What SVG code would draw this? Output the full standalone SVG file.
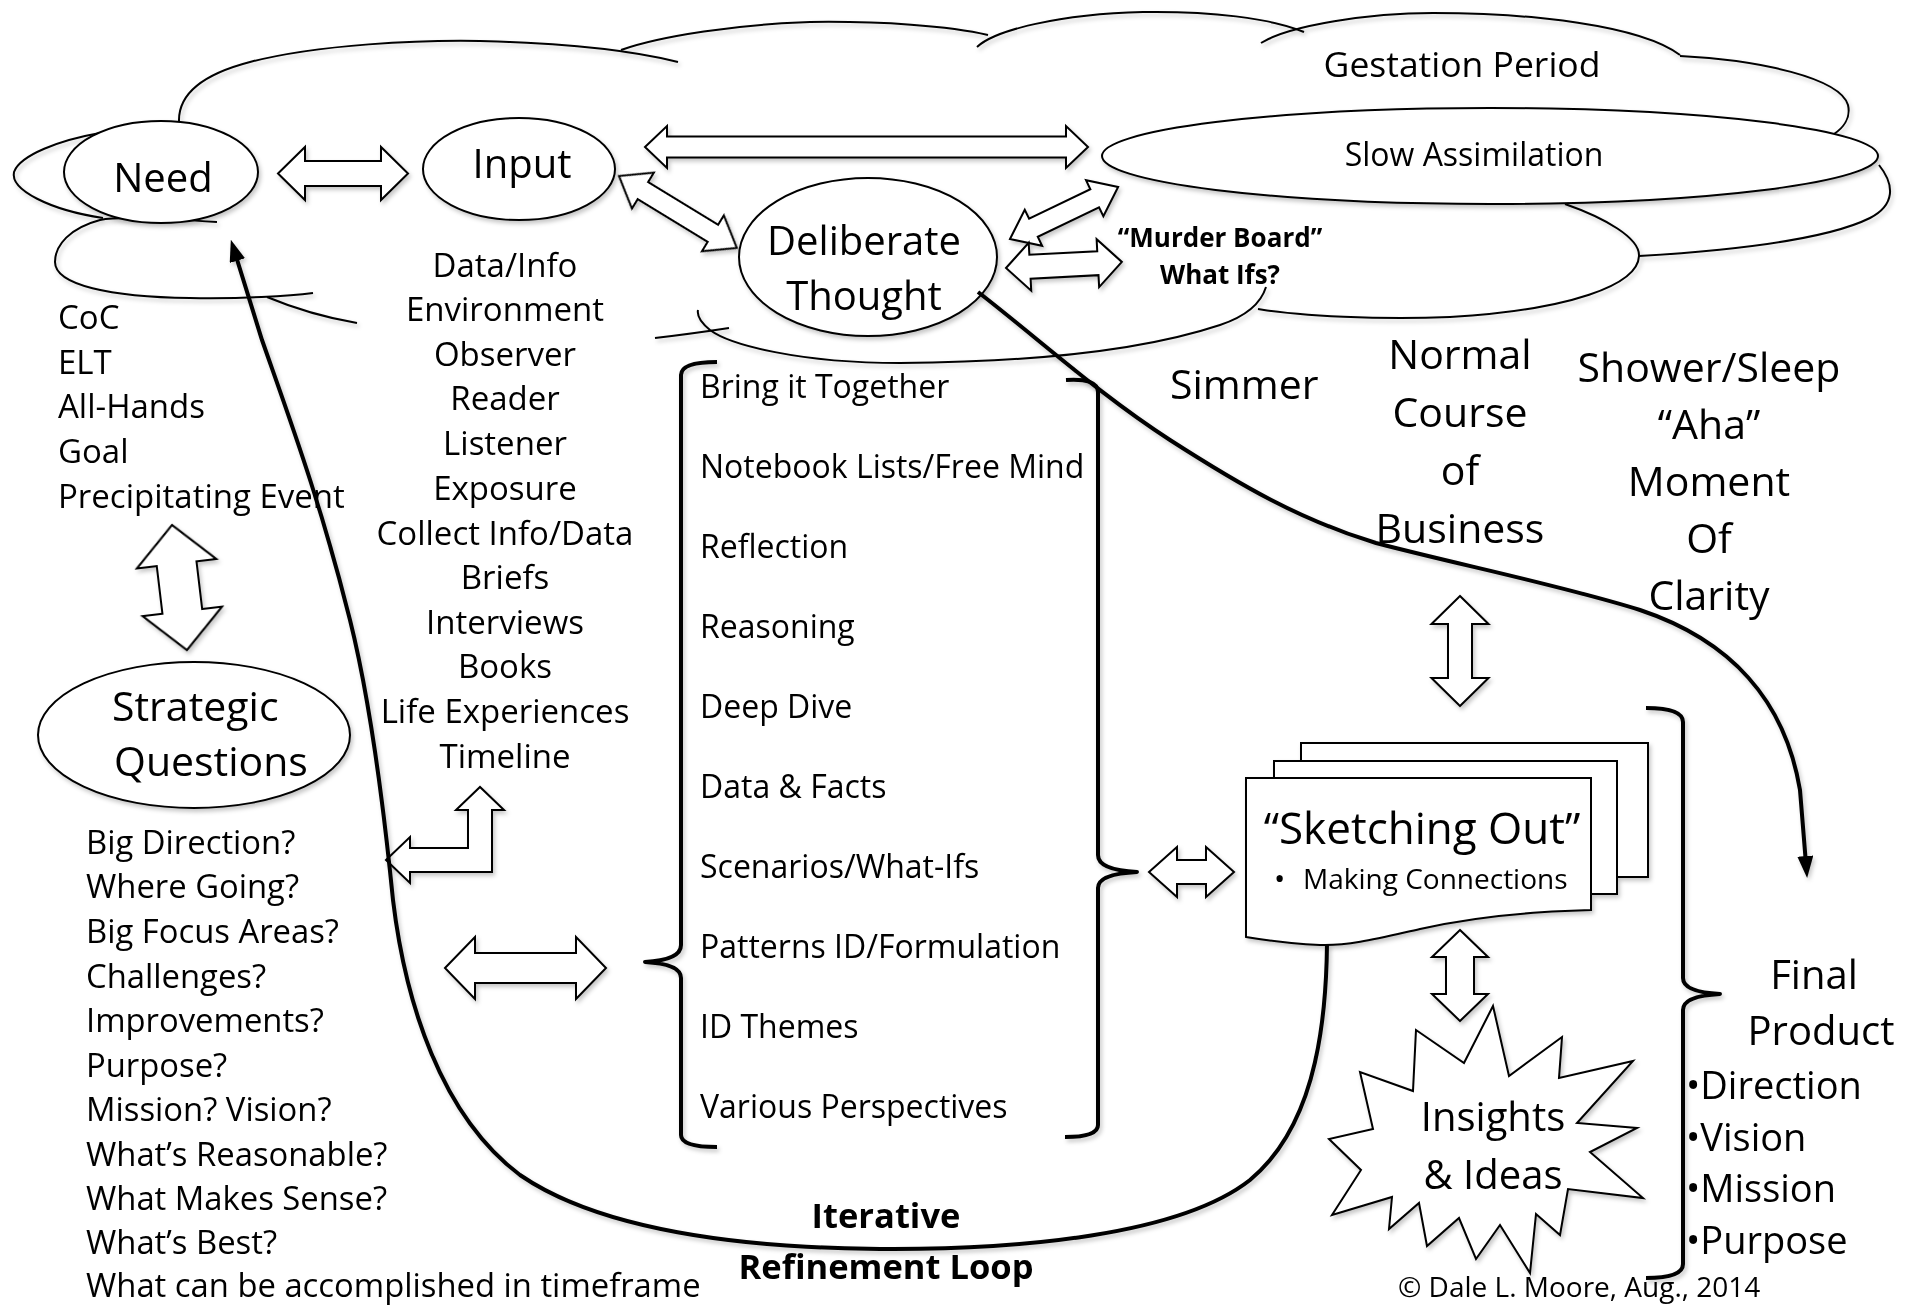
<svg xmlns="http://www.w3.org/2000/svg" width="1907" height="1307" viewBox="0 0 1907 1307">
  <defs>
    <style>
      .ln { fill: none; stroke: #000; stroke-width: 2; }
      .sh { fill: #fff; stroke: #000; stroke-width: 2; }
      .br { fill: none; stroke: #000; stroke-width: 4; stroke-linejoin: round; }
      .ar { fill: #fff; stroke: #000; stroke-width: 2; stroke-linejoin: miter; }
      .flow { fill: none; stroke: #000; stroke-width: 4; }
      .t { font-family: "Open Sans", "Liberation Sans", sans-serif; fill: #000; }
      .b { font-weight: bold; }
      .c { text-anchor: middle; }
      .shadow { filter: url(#drop); }
    </style>
    <filter id="drop" x="-10%" y="-10%" width="125%" height="130%">
      <feDropShadow dx="2" dy="3" stdDeviation="2" flood-color="#000" flood-opacity="0.22"/>
    </filter>
    <marker id="head" viewBox="0 0 22 16" refX="8" refY="8" markerWidth="22" markerHeight="16" markerUnits="userSpaceOnUse" orient="auto">
      <path d="M0,0 L22,8 L0,16 Z" fill="#000"/>
    </marker>
  </defs>

  <rect width="1907" height="1307" fill="#fff"/>

  <!-- gestation cloud outline, built from separate lobes -->
  <g id="cloud" class="shadow">
    <path class="ln" d="M179,122 C178,95 200,75 250,62 C320,44 420,40 480,41 C560,43 630,50 678,62"/>
    <path class="ln" d="M621,50 C660,36 740,24 810,22 C880,21 950,26 988,35"/>
    <path class="ln" d="M977,47 C995,30 1060,14 1143,12 C1210,11 1270,18 1304,32"/>
    <path class="ln" d="M1261,43 C1290,25 1370,13 1433,13 C1530,13 1640,25 1680,55"/>
    <path class="ln" d="M1680,56 C1760,60 1840,78 1848,105 C1851,118 1843,128 1834,134"/>
    <path class="ln" d="M1879,165 C1895,185 1895,205 1870,218 C1830,238 1740,250 1639,256"/>
    <path class="ln" d="M1565,204 C1605,218 1640,238 1639,256 C1638,285 1570,310 1450,317 C1380,320 1300,316 1258,309"/>
    <path class="ln" d="M1266,287 C1262,300 1250,315 1220,325 C1160,345 1060,362 900,363 C800,363 730,345 710,330 C700,322 697,315 698,310"/>
    <path class="ln" d="M267,297 Q310,315 357,323"/>
    <path class="ln" d="M655,338 Q690,334 729,328"/>
    <path class="ln" d="M100,133 C60,140 20,155 14,172 C10,190 50,210 103,218"/>
    <path class="ln" d="M217,222 C170,219 120,216 100,220 C70,228 55,245 55,262 C55,285 110,297 190,298 C240,299 290,296 313,293"/>
  </g>

  <!-- nodes -->
  <g id="node-slow" class="shadow">
    <ellipse class="sh" cx="1490" cy="156" rx="388" ry="48"/>
  </g>
  <g id="node-need" class="shadow">
    <ellipse class="sh" cx="161" cy="172" rx="97" ry="51"/>
  </g>
  <g id="node-input" class="shadow">
    <ellipse class="sh" cx="519" cy="169" rx="96" ry="51"/>
  </g>
  <g id="node-deliberate" class="shadow">
    <ellipse class="sh" cx="868" cy="257" rx="129" ry="79"/>
  </g>
  <g id="node-strategic" class="shadow">
    <ellipse class="sh" cx="194" cy="735" rx="156" ry="73"/>
  </g>
  <g id="node-sketching" class="shadow">
    <rect class="sh" x="1301" y="743" width="347" height="134"/>
    <rect class="sh" x="1274" y="761" width="343" height="133"/>
    <path class="sh" d="M1246,778 H1591 V910 C1510,912 1460,920 1420,929 C1380,938 1350,946 1320,945 C1295,944 1270,941 1246,937 Z"/>
  </g>
  <g id="node-insights" class="shadow">
    <polygon class="sh" points="1493,1006 1509,1076 1562,1037 1559,1078 1633,1061 1577,1123 1637,1128 1590,1152 1643,1198 1568,1189 1560,1235 1536,1214 1530,1273 1500,1225 1476,1259 1459,1218 1427,1246 1419,1203 1389,1229 1392,1197 1332,1215 1361,1170 1329,1139 1373,1129 1360,1072 1413,1091 1416,1030 1464,1063"/>
  </g>

  <!-- brackets -->
  <g id="brackets" class="shadow">
    <path class="br" d="M717,362 Q681,362 681,375 L681,945 Q681,960 645,962 Q681,964 681,978 L681,1135 Q681,1147 717,1147"/>
    <path class="br" d="M1066,380 Q1098,378 1098,392 L1098,855 Q1098,870 1137,872 Q1098,874 1098,888 L1098,1125 Q1098,1137 1065,1137"/>
    <path class="br" d="M1646,708 Q1683,708 1683,722 L1683,978 Q1683,992 1720,994 Q1683,996 1683,1010 L1683,1264 Q1683,1278 1646,1278"/>
  </g>

  <!-- connectors -->
  <g id="connectors">
    <g class="shadow">
      <path class="ar" transform="translate(278,173.5)" d="M0,0 L27,-26.5 L27,-12.5 L103,-12.5 L103,-26.5 L130,0 L103,26.5 L103,12.5 L27,12.5 L27,26.5 Z"/>
      <path class="ar" transform="translate(645,147)" d="M0,0 L22,-21 L22,-10.5 L421,-10.5 L421,-21 L443,0 L421,21 L421,10.5 L22,10.5 L22,21 Z"/>
      <path class="ar" transform="translate(619,176) rotate(31.4)" d="M0,0 L28,-21 L28,-10 L110,-10 L110,-21 L138,0 L110,21 L110,10 L28,10 L28,21 Z"/>
      <path class="ar" transform="translate(1010,239) rotate(-25.7)" d="M0,0 L26,-20 L26,-10 L94,-10 L94,-20 L120,0 L94,20 L94,10 L26,10 L26,20 Z"/>
      <path class="ar" transform="translate(1006,268) rotate(-3)" d="M0,0 L24,-24 L24,-12 L92,-12 L92,-24 L116,0 L92,24 L92,12 L24,12 L24,24 Z"/>
      <path class="ar" transform="translate(172,525) rotate(83.2)" d="M0,0 L39,-40 L39,-20 L87,-20 L87,-40 L126,0 L87,40 L87,20 L39,20 L39,40 Z"/>
      <path class="ar" d="M386,860 L410,837 L410,848 L468,848 L468,810 L456,810 L480,787 L504,810 L492,810 L492,872 L410,872 L410,883 Z"/>
      <path class="ar" transform="translate(445,968)" d="M0,0 L30,-31 L30,-15 L131,-15 L131,-31 L161,0 L131,31 L131,15 L30,15 L30,31 Z"/>
      <path class="ar" transform="translate(1149,872)" d="M0,0 L28,-25 L28,-12 L57,-12 L57,-25 L85,0 L57,25 L57,12 L28,12 L28,25 Z"/>
      <path class="ar" transform="translate(1460,596) rotate(90)" d="M0,0 L28,-28.5 L28,-12 L82,-12 L82,-28.5 L110,0 L82,28.5 L82,12 L28,12 L28,28.5 Z"/>
      <path class="ar" transform="translate(1460,930) rotate(90)" d="M0,0 L27,-28 L27,-14 L64,-14 L64,-28 L91,0 L64,28 L64,14 L27,14 L27,28 Z"/>
    </g>
    <!-- iterative refinement loop back to Need -->
    <path class="flow shadow" marker-end="url(#head)" d="M1327,944 C1326,1040 1310,1130 1250,1180 C1180,1235 1020,1250 880,1249 C740,1248 600,1230 520,1175 C440,1115 405,1000 393,900 C383,800 370,700 350,620 C320,500 290,420 262,340 L235,253"/>
    <!-- deliberate thought on to the final product -->
    <path class="flow shadow" marker-end="url(#head)" d="M978,292 C1040,340 1100,395 1170,440 C1240,485 1300,520 1376,543 C1460,565 1560,585 1640,610 C1730,640 1785,700 1800,790 L1806,864"/>
  </g>

  <!-- labels -->
  <g id="labels">
    <text class="t c" x="1462" y="77" font-size="35.5">Gestation Period</text>
    <text class="t c" x="1474" y="166" font-size="32">Slow Assimilation</text>
    <text class="t c" x="163" y="192" font-size="40">Need</text>
    <text class="t c" x="522" y="178" font-size="40">Input</text>
    <text class="t c" font-size="40"><tspan x="864" y="255">Deliberate</tspan><tspan x="864" y="310">Thought</tspan></text>
    <text class="t b c" font-size="26"><tspan x="1220" y="247">“Murder Board”</tspan><tspan x="1220" y="284">What Ifs?</tspan></text>
    <text class="t" x="1170" y="399" font-size="41">Simmer</text>
    <text class="t c" font-size="41"><tspan x="1460" y="369">Normal</tspan><tspan x="1460" y="427">Course</tspan><tspan x="1460" y="485">of</tspan><tspan x="1460" y="543">Business</tspan></text>
    <text class="t c" font-size="41"><tspan x="1709" y="382">Shower/Sleep</tspan><tspan x="1709" y="439">“Aha”</tspan><tspan x="1709" y="496">Moment</tspan><tspan x="1709" y="553">Of</tspan><tspan x="1709" y="610">Clarity</tspan></text>

    <text class="t" font-size="33"><tspan x="58" y="329">CoC</tspan><tspan x="58" y="374">ELT</tspan><tspan x="58" y="418">All-Hands</tspan><tspan x="58" y="463">Goal</tspan><tspan x="58" y="508">Precipitating Event</tspan></text>

    <text class="t c" font-size="33"><tspan x="505" y="277">Data/Info</tspan><tspan x="505" y="321">Environment</tspan><tspan x="505" y="366">Observer</tspan><tspan x="505" y="410">Reader</tspan><tspan x="505" y="455">Listener</tspan><tspan x="505" y="500">Exposure</tspan><tspan x="505" y="545">Collect Info/Data</tspan><tspan x="505" y="589">Briefs</tspan><tspan x="505" y="634">Interviews</tspan><tspan x="505" y="678">Books</tspan><tspan x="505" y="723">Life Experiences</tspan><tspan x="505" y="768">Timeline</tspan></text>

    <text class="t" font-size="32"><tspan x="700" y="398">Bring it Together</tspan><tspan x="700" y="478">Notebook Lists/Free Mind</tspan><tspan x="700" y="558">Reflection</tspan><tspan x="700" y="638">Reasoning</tspan><tspan x="700" y="718">Deep Dive</tspan><tspan x="700" y="798">Data &amp; Facts</tspan><tspan x="700" y="878">Scenarios/What-Ifs</tspan><tspan x="700" y="958">Patterns ID/Formulation</tspan><tspan x="700" y="1038">ID Themes</tspan><tspan x="700" y="1118">Various Perspectives</tspan></text>

    <text class="t" font-size="41"><tspan x="112" y="721">Strategic</tspan><tspan x="114" y="776">Questions</tspan></text>

    <text class="t" font-size="32.8"><tspan x="86" y="854">Big Direction?</tspan><tspan x="86" y="898">Where Going?</tspan><tspan x="86" y="943">Big Focus Areas?</tspan><tspan x="86" y="988">Challenges?</tspan><tspan x="86" y="1032">Improvements?</tspan><tspan x="86" y="1077">Purpose?</tspan><tspan x="86" y="1121">Mission? Vision?</tspan><tspan x="86" y="1166">What’s Reasonable?</tspan><tspan x="86" y="1210">What Makes Sense?</tspan><tspan x="86" y="1254">What’s Best?</tspan><tspan x="86" y="1297">What can be accomplished in timeframe</tspan></text>

    <text class="t b c" font-size="34.5"><tspan x="886" y="1228">Iterative</tspan><tspan x="886" y="1279">Refinement Loop</tspan></text>

    <text class="t c" x="1422" y="844" font-size="44">“Sketching Out”</text>
    <text class="t" font-size="28"><tspan x="1274" y="889" font-size="30">•</tspan><tspan x="1303" y="889">Making Connections</tspan></text>

    <text class="t c" font-size="40"><tspan x="1493" y="1131">Insights</tspan><tspan x="1493" y="1189">&amp; Ideas</tspan></text>

    <text class="t c" font-size="40"><tspan x="1814" y="989">Final</tspan><tspan x="1821" y="1045">Product</tspan></text>
    <text class="t" font-size="38"><tspan x="1686" y="1099">•Direction</tspan><tspan x="1686" y="1150.5">•Vision</tspan><tspan x="1686" y="1202">•Mission</tspan><tspan x="1686" y="1253.5">•Purpose</tspan></text>

    <text class="t" x="1398" y="1297" font-size="28">© Dale L. Moore, Aug., 2014</text>
  </g>
</svg>
